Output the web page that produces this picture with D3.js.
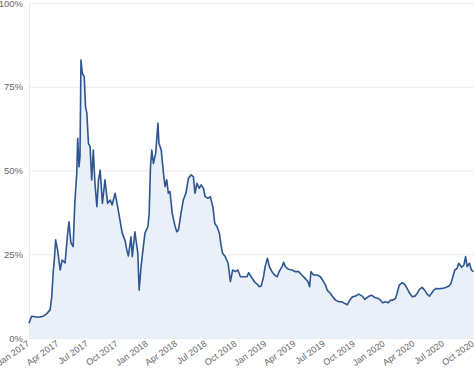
<!DOCTYPE html>
<html>
<head>
<meta charset="utf-8">
<script src="https://cdn.jsdelivr.net/npm/d3@7"></script>
<style>
  body { margin: 0; background: #fff; }
  text { font-family: "Liberation Sans", Arial, sans-serif; }
</style>
</head>
<body>
<script>
// dates and share values (percent)
const dates = [
  "2017-01-01","2017-01-09","2017-01-29","2017-02-14","2017-02-24","2017-03-07","2017-03-12","2017-03-17","2017-03-20","2017-03-24",
  "2017-03-30","2017-04-07","2017-04-13","2017-04-22","2017-04-29","2017-05-04","2017-05-10","2017-05-17","2017-05-22","2017-05-28",
  "2017-05-31","2017-06-04","2017-06-07","2017-06-10","2017-06-14","2017-06-20","2017-06-24","2017-06-28","2017-07-03","2017-07-08",
  "2017-07-13","2017-07-18","2017-07-23","2017-07-29","2017-08-03","2017-08-08","2017-08-15","2017-08-23","2017-08-31","2017-09-08",
  "2017-09-14","2017-09-23","2017-10-01","2017-10-08","2017-10-15","2017-10-24","2017-10-29","2017-11-03","2017-11-11","2017-11-15",
  "2017-11-23","2017-12-02","2017-12-06","2017-12-12","2017-12-19","2017-12-24","2018-01-02","2018-01-06","2018-01-10","2018-01-14",
  "2018-01-19","2018-01-26","2018-02-02","2018-02-05","2018-02-12","2018-02-19","2018-02-24","2018-03-01","2018-03-06","2018-03-11",
  "2018-03-18","2018-03-27","2018-04-01","2018-04-06","2018-04-14","2018-04-21","2018-04-29","2018-05-07","2018-05-15","2018-05-22",
  "2018-05-27","2018-06-02","2018-06-09","2018-06-15","2018-06-22","2018-06-27","2018-07-06","2018-07-13","2018-07-21","2018-07-27",
  "2018-08-03","2018-08-10","2018-08-16","2018-08-20","2018-08-28","2018-09-06","2018-09-13","2018-09-20","2018-09-28","2018-10-06",
  "2018-10-14","2018-10-24","2018-11-03","2018-11-08","2018-11-16","2018-11-26","2018-12-04","2018-12-11","2018-12-17","2018-12-24",
  "2018-12-29","2019-01-05","2019-01-11","2019-01-19","2019-01-27","2019-02-04","2019-02-10","2019-02-19","2019-02-24","2019-03-01",
  "2019-03-11","2019-03-22","2019-04-01","2019-04-11","2019-04-21","2019-05-01","2019-05-10","2019-05-15","2019-05-19","2019-05-27",
  "2019-06-07","2019-06-17","2019-06-24","2019-07-03","2019-07-08","2019-07-18","2019-07-25","2019-08-03","2019-08-13","2019-08-23",
  "2019-09-02","2019-09-08","2019-09-17","2019-09-24","2019-10-03","2019-10-13","2019-10-24","2019-11-01","2019-11-11","2019-11-21",
  "2019-12-02","2019-12-12","2019-12-19","2019-12-26","2020-01-04","2020-01-12","2020-01-19","2020-01-26","2020-02-03","2020-02-08",
  "2020-02-15","2020-02-24","2020-03-03","2020-03-10","2020-03-17","2020-03-26","2020-04-03","2020-04-10","2020-04-17","2020-04-25",
  "2020-05-03","2020-05-11","2020-05-18","2020-05-24","2020-05-31","2020-06-08","2020-06-16","2020-06-26","2020-07-07","2020-07-17",
  "2020-07-23","2020-07-29","2020-08-04","2020-08-11","2020-08-16","2020-08-25","2020-09-01","2020-09-06","2020-09-11","2020-09-18",
  "2020-09-24","2020-10-01"
];
const values = [
  4.4, 6.5, 6.2, 6.5, 7.2, 8.4, 12.3, 20.3, 23.3, 29.3,
  26.3, 20.3, 23.3, 22.4, 30.2, 34.7, 28.4, 27.3, 40.3, 49.2,
  59.6, 51.1, 54.1, 83.0, 79.0, 78.0, 69.0, 67.2, 58.1, 57.1,
  47.2, 56.1, 46.2, 39.2, 47.2, 50.1, 40.2, 47.2, 40.2, 41.2,
  39.7, 43.2, 39.2, 35.2, 31.3, 29.0, 26.3, 24.5, 30.2, 24.3,
  31.7, 25.3, 14.3, 21.3, 27.3, 31.3, 33.2, 37.2, 51.1, 56.1,
  52.1, 55.1, 64.1, 58.1, 56.1, 49.2, 45.2, 47.2, 43.2, 43.7,
  37.2, 33.2, 31.7, 32.2, 37.2, 41.2, 43.2, 47.7, 48.7, 48.2,
  43.2, 46.2, 44.7, 45.7, 44.7, 42.2, 41.7, 42.2, 39.2, 34.2,
  33.2, 31.3, 27.3, 25.3, 24.3, 22.3, 16.8, 20.3, 19.8, 20.3,
  18.3, 18.3, 18.3, 19.5, 18.3, 16.8, 16.1, 15.3, 15.5, 18.3,
  21.3, 23.8, 21.3, 19.8, 18.8, 18.3, 19.8, 21.3, 22.6, 21.3,
  20.5, 20.3, 19.8, 19.8, 18.8, 17.8, 16.8, 15.3, 19.8, 18.8,
  18.8, 18.3, 17.3, 15.8, 14.3, 13.3, 12.3, 11.3, 10.8, 10.8,
  10.2, 9.9, 11.5, 12.3, 12.5, 13.1, 12.5, 11.5, 12.3, 12.8,
  12.1, 11.8, 11.3, 10.5, 10.8, 10.5, 11.3, 11.3, 11.8, 13.3,
  15.8, 16.5, 16.0, 14.8, 13.5, 12.3, 12.5, 13.3, 14.5, 15.1,
  14.3, 13.1, 12.5, 13.3, 14.3, 14.8, 14.7, 14.8, 15.1, 15.5,
  16.3, 18.3, 20.3, 20.8, 22.3, 21.1, 21.8, 24.3, 21.3, 22.3,
  20.3, 19.8
];
const yTicks = [0, 25, 50, 75, 100];
const xTickDates = [
  "2017-01-01","2017-04-01","2017-07-01","2017-10-01","2018-01-01","2018-04-01","2018-07-01","2018-10-01",
  "2019-01-01","2019-04-01","2019-07-01","2019-10-01","2020-01-01","2020-04-01","2020-07-01","2020-10-01"
];

const W = 474, H = 373;
const margin = {top: 3, right: 0, bottom: 35, left: 29};
const parse = d3.timeParse("%Y-%m-%d");
const data = dates.map((d, i) => ({date: parse(d), value: values[i]}));

const svg = d3.select("body").append("svg")
    .attr("width", W)
    .attr("height", H);

var x = d3.scaleTime()
    .domain([parse("2017-01-01"), parse("2020-10-02")])
    .range([margin.left, W - margin.right]);
var y = d3.scaleLinear()
    .domain([0, 100])
    .range([H - margin.bottom, margin.top]);

// horizontal grid
svg.append("g")
  .selectAll("line")
  .data(yTicks)
  .enter().append("line")
    .attr("x1", margin.left)
    .attr("x2", W)
    .attr("y1", d => y(d) + 0.5)
    .attr("y2", d => y(d) + 0.5)
    .attr("stroke", "#ececec");

// left axis line
svg.append("line")
    .attr("x1", margin.left + 0.5).attr("x2", margin.left + 0.5)
    .attr("y1", y(100)).attr("y2", y(0))
    .attr("stroke", "#ececec");

// area + line
const area = d3.area()
    .x(d => x(d.date))
    .y0(y(0))
    .y1(d => y(d.value));
const line = d3.line()
    .x(d => x(d.date))
    .y(d => y(d.value));

svg.append("path")
    .datum(data)
    .attr("fill", "#eaf0f8")
    .attr("d", area);

svg.append("path")
    .datum(data)
    .attr("fill", "none")
    .attr("stroke", "#2d5592")
    .attr("stroke-width", 1.6)
    .attr("stroke-linejoin", "round")
    .attr("d", line);

// y labels
svg.append("g")
  .selectAll("text")
  .data(yTicks)
  .enter().append("text")
    .attr("x", margin.left - 6)
    .attr("y", d => y(d) + 3.5)
    .attr("text-anchor", "end")
    .attr("font-size", 9.5)
    .attr("fill", "#666")
    .text(d => d + "%");

// x labels, rotated
const fmt = d3.timeFormat("%b %Y");
svg.append("g")
  .selectAll("text")
  .data(xTickDates.map(parse))
  .enter().append("text")
    .attr("transform", d => "translate(" + (x(d) + 1) + "," + (y(0) + 7) + ") rotate(-35)")
    .attr("text-anchor", "end")
    .attr("font-size", 9)
    .attr("fill", "#666")
    .text(d => fmt(d));
</script>
</body>
</html>
